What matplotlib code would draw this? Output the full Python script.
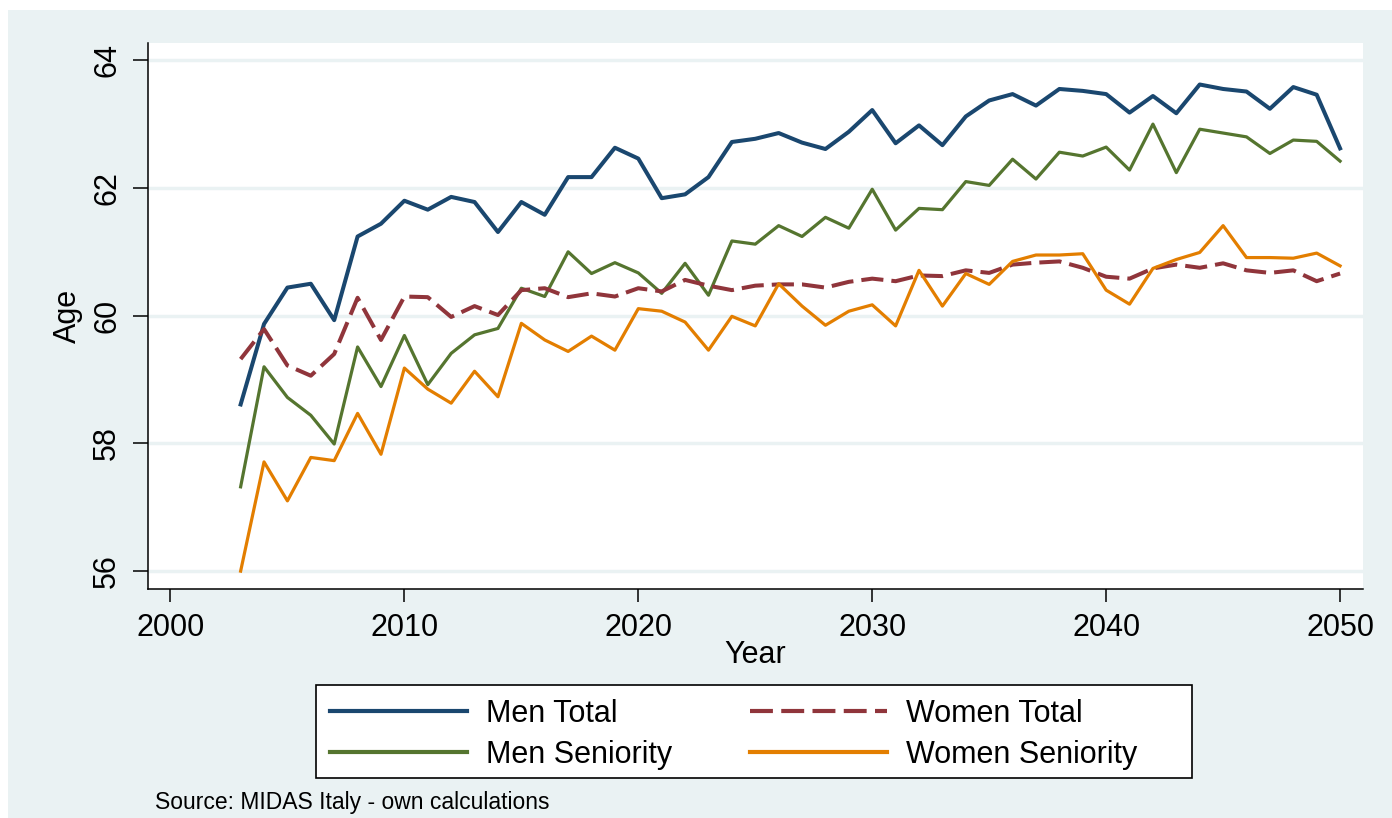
# plot.py
# Average retirement age, Italy 2003-2050 (Stata s2color look)

import matplotlib
matplotlib.use("Agg")
import matplotlib.pyplot as plt
from matplotlib.patches import Rectangle

plt.rcParams["font.family"] = ["Liberation Sans", "DejaVu Sans"]

# data
years = list(range(2003, 2051))

men_total = [58.61, 59.87, 60.44, 60.50, 59.93, 61.24, 61.44, 61.80, 61.66, 61.86,
             61.78, 61.31, 61.78, 61.58, 62.17, 62.17, 62.63, 62.46, 61.84, 61.90,
             62.17, 62.72, 62.77, 62.86, 62.71, 62.61, 62.88, 63.22, 62.70, 62.98,
             62.67, 63.12, 63.37, 63.47, 63.29, 63.55, 63.52, 63.47, 63.18, 63.44,
             63.17, 63.62, 63.55, 63.51, 63.24, 63.58, 63.46, 62.62]

women_total = [59.32, 59.79, 59.22, 59.06, 59.40, 60.28, 59.62, 60.30, 60.29, 59.98,
               60.15, 60.01, 60.40, 60.43, 60.29, 60.35, 60.30, 60.43, 60.38, 60.56,
               60.47, 60.40, 60.47, 60.49, 60.49, 60.44, 60.53, 60.58, 60.54, 60.63,
               60.62, 60.71, 60.67, 60.80, 60.83, 60.85, 60.75, 60.61, 60.58, 60.74,
               60.80, 60.75, 60.82, 60.71, 60.67, 60.71, 60.54, 60.66]

men_seniority = [57.32, 59.20, 58.72, 58.44, 57.99, 59.51, 58.89, 59.69, 58.92, 59.41,
                 59.70, 59.80, 60.43, 60.30, 61.00, 60.66, 60.83, 60.67, 60.35, 60.82,
                 60.32, 61.17, 61.12, 61.41, 61.24, 61.54, 61.37, 61.98, 61.34, 61.68,
                 61.66, 62.10, 62.04, 62.45, 62.14, 62.56, 62.50, 62.64, 62.28, 63.00,
                 62.24, 62.92, 62.86, 62.80, 62.54, 62.75, 62.73, 62.42]

women_seniority = [56.00, 57.71, 57.10, 57.78, 57.73, 58.47, 57.83, 59.18, 58.85, 58.63,
                   59.13, 58.73, 59.88, 59.62, 59.44, 59.68, 59.46, 60.11, 60.07, 59.90,
                   59.46, 59.99, 59.84, 60.50, 60.15, 59.85, 60.07, 60.17, 59.84, 60.71,
                   60.15, 60.66, 60.49, 60.85, 60.95, 60.95, 60.97, 60.40, 60.18, 60.74,
                   60.88, 60.99, 61.41, 60.91, 60.91, 60.90, 60.98, 60.78]

x_ticks = [2000, 2010, 2020, 2030, 2040, 2050]
y_ticks = [56, 58, 60, 62, 64]

# Stata s2color palette
NAVY = "#1a476f"
MAROON = "#90353b"
GREEN = "#55752f"
ORANGE = "#e37e00"
BG = "#eaf2f3"

W, H = 1392, 818
fig = plt.figure(figsize=(W / 100, H / 100), dpi=100, facecolor="white")

# outer light background (small white border on top/left)
fig.patches.append(Rectangle((8 / W, 0), 1 - 8 / W, 1 - 10 / H, transform=fig.transFigure,
                             facecolor=BG, edgecolor="none", zorder=-10))

ax = fig.add_axes([148 / W, 1 - 589 / H, (1363 - 148) / W, (589 - 43) / H])
ax.set_facecolor("white")

ax.plot(years, men_total, color=NAVY, lw=2.9, label="Men Total", zorder=3)
ax.plot(years, men_seniority, color=GREEN, lw=2.3, label="Men Seniority", zorder=3)
ax.plot(years, women_total, color=MAROON, lw=2.9, dashes=(5.5, 2.0), label="Women Total", zorder=3)
ax.plot(years, women_seniority, color=ORANGE, lw=2.3, label="Women Seniority", zorder=3)

ax.set_xlim(1999.04, 2050.98)
ax.set_ylim(55.72, 64.27)
ax.set_xticks(x_ticks)
ax.set_yticks(y_ticks)
ax.grid(axis="y", color=BG, lw=2.5, zorder=1)
ax.set_axisbelow(True)

for s in ["top", "right"]:
    ax.spines[s].set_visible(False)
for s in ["left", "bottom"]:
    ax.spines[s].set_color("black")
    ax.spines[s].set_linewidth(1.1)

ax.tick_params(axis="x", length=9.4, width=1.1, pad=8, labelsize=22)
ax.tick_params(axis="y", length=10.5, width=1.1, pad=8, labelsize=22)
for lab in ax.get_yticklabels():
    lab.set_rotation(90)
    lab.set_va("center")

ax.set_xlabel("Year", fontsize=22)
ax.xaxis.set_label_coords(0.5, -0.093)
ax.set_ylabel("Age", fontsize=22)
ax.yaxis.set_label_coords(-0.0535, 0.5)

# legend: white box with black border, two columns
fig.patches.append(Rectangle((316 / W, 1 - 778 / H), (1192 - 316) / W, (778 - 685) / H,
                             transform=fig.transFigure, facecolor="white",
                             edgecolor="black", lw=1.2, zorder=4))
h, l = ax.get_legend_handles_labels()
leg = fig.legend(h, l, ncol=2,
                 loc="upper left", bbox_to_anchor=(316 / W, 1 - 685 / H),
                 frameon=False, fontsize=22, handlelength=4.5, handletextpad=0.62,
                 columnspacing=2.53, borderpad=0.45, borderaxespad=0, labelspacing=0.36)
leg.set_zorder(5)
for line in leg.get_lines():
    line.set_linewidth(3.0)

fig.text(155 / W, 1 - 803 / H, "Source: MIDAS Italy - own calculations",
         fontsize=16.5, va="center", ha="left")

fig.savefig("out.png", dpi=100, facecolor=fig.get_facecolor())
